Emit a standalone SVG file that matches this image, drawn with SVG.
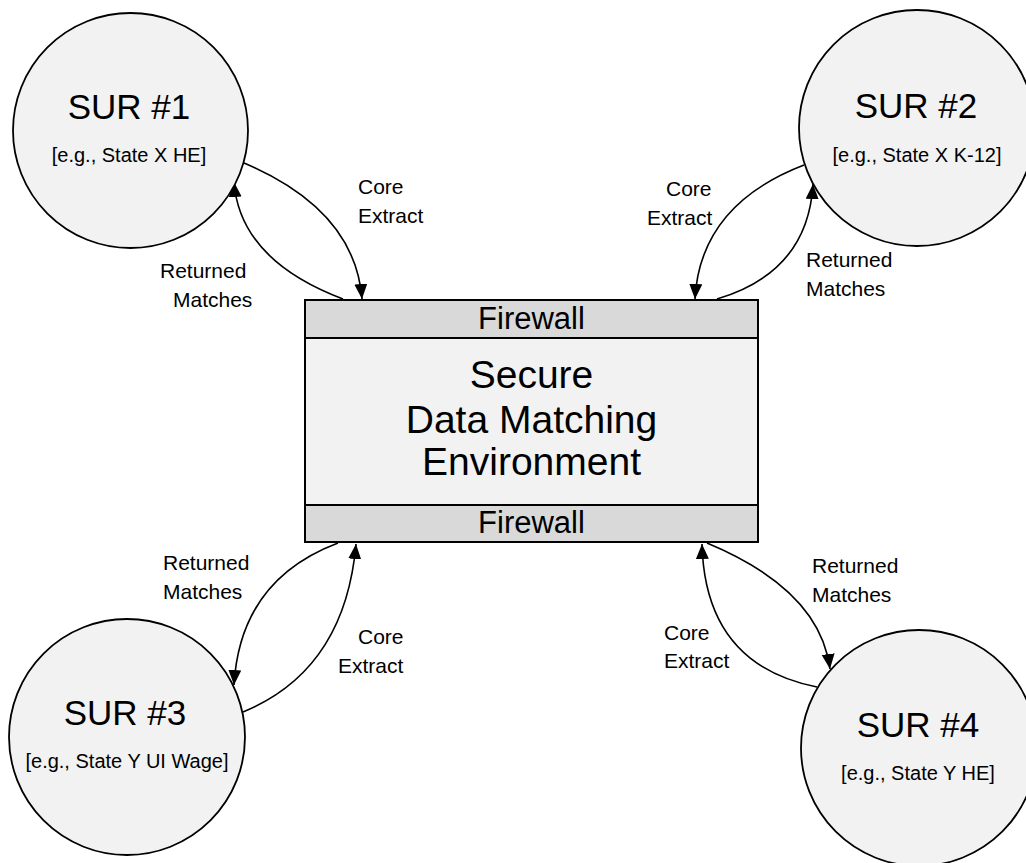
<svg xmlns="http://www.w3.org/2000/svg" width="1026" height="863" viewBox="0 0 1026 863">
<style>
  .node { fill: #f2f2f2; stroke: #000; stroke-width: 1.8; }
  .fw { fill: #d9d9d9; stroke: #000; stroke-width: 2; }
  .body { fill: #f2f2f2; stroke: #000; stroke-width: 2; }
  text { font-family: "Liberation Sans", Arial, sans-serif; fill: #000; }
  .title { font-size: 35px; text-anchor: middle; }
  .sub { font-size: 20px; text-anchor: middle; }
  .fwt { font-size: 31px; text-anchor: middle; }
  .main { font-size: 39px; text-anchor: middle; }
  .lbl { font-size: 21px; }
  .conn { fill: none; stroke: #000; stroke-width: 1.6; marker-end: url(#arrow); }
</style>
<defs>
  <marker id="arrow" markerUnits="userSpaceOnUse" markerWidth="16" markerHeight="14" refX="15" refY="6.5" orient="auto">
    <path d="M0,0 L15,6.5 L0,13 z" fill="#000"/>
  </marker>
</defs>
<rect width="1026" height="863" fill="#fff"/>

<g id="connectors">
  <path class="conn" d="M244,163 Q355,210 362,299"/>
  <path class="conn" d="M343,299 Q240,260 234,182"/>
  <path class="conn" d="M804,165 Q700,205 695,299"/>
  <path class="conn" d="M717,299 Q808,272 813,184"/>
  <path class="conn" d="M338,543 Q240,580 234,685"/>
  <path class="conn" d="M243,712 Q345,670 356,544"/>
  <path class="conn" d="M817,687 Q705,665 702,544"/>
  <path class="conn" d="M707,543 Q820,590 830,669"/>
</g>

<g id="labels">
  <text class="lbl" x="358" y="194">Core</text>
  <text class="lbl" x="358" y="223">Extract</text>
  <text class="lbl" x="160" y="278">Returned</text>
  <text class="lbl" x="173" y="307">Matches</text>

  <text class="lbl" x="666" y="196">Core</text>
  <text class="lbl" x="647" y="225">Extract</text>
  <text class="lbl" x="806" y="267">Returned</text>
  <text class="lbl" x="806" y="296">Matches</text>

  <text class="lbl" x="163" y="570">Returned</text>
  <text class="lbl" x="163" y="599">Matches</text>
  <text class="lbl" x="358" y="644">Core</text>
  <text class="lbl" x="338" y="673">Extract</text>

  <text class="lbl" x="812" y="573">Returned</text>
  <text class="lbl" x="812" y="602">Matches</text>
  <text class="lbl" x="664" y="640">Core</text>
  <text class="lbl" x="664" y="668">Extract</text>
</g>

<g id="sdme">
  <rect class="body" x="305" y="300" width="453" height="242"/>
  <rect class="fw" x="305" y="300" width="453" height="38"/>
  <rect class="fw" x="305" y="505" width="453" height="37"/>
  <text class="fwt" x="531.5" y="329">Firewall</text>
  <text class="main" x="531.5" y="388">Secure</text>
  <text class="main" x="531.5" y="433">Data Matching</text>
  <text class="main" x="531.5" y="475">Environment</text>
  <text class="fwt" x="531.5" y="533">Firewall</text>
</g>

<g id="sur1">
  <circle class="node" cx="130.5" cy="130.5" r="117.5"/>
  <text class="title" x="129" y="119">SUR #1</text>
  <text class="sub" x="129" y="162">[e.g., State X HE]</text>
</g>

<g id="sur2">
  <circle class="node" cx="917" cy="128" r="118"/>
  <text class="title" x="916" y="118">SUR #2</text>
  <text class="sub" x="917" y="162">[e.g., State X K-12]</text>
</g>

<g id="sur3">
  <circle class="node" cx="127" cy="737" r="118"/>
  <text class="title" x="125" y="725">SUR #3</text>
  <text class="sub" x="127" y="768">[e.g., State Y UI Wage]</text>
</g>

<g id="sur4">
  <circle class="node" cx="919" cy="748" r="118"/>
  <text class="title" x="918" y="737">SUR #4</text>
  <text class="sub" x="918" y="780">[e.g., State Y HE]</text>
</g>
</svg>
